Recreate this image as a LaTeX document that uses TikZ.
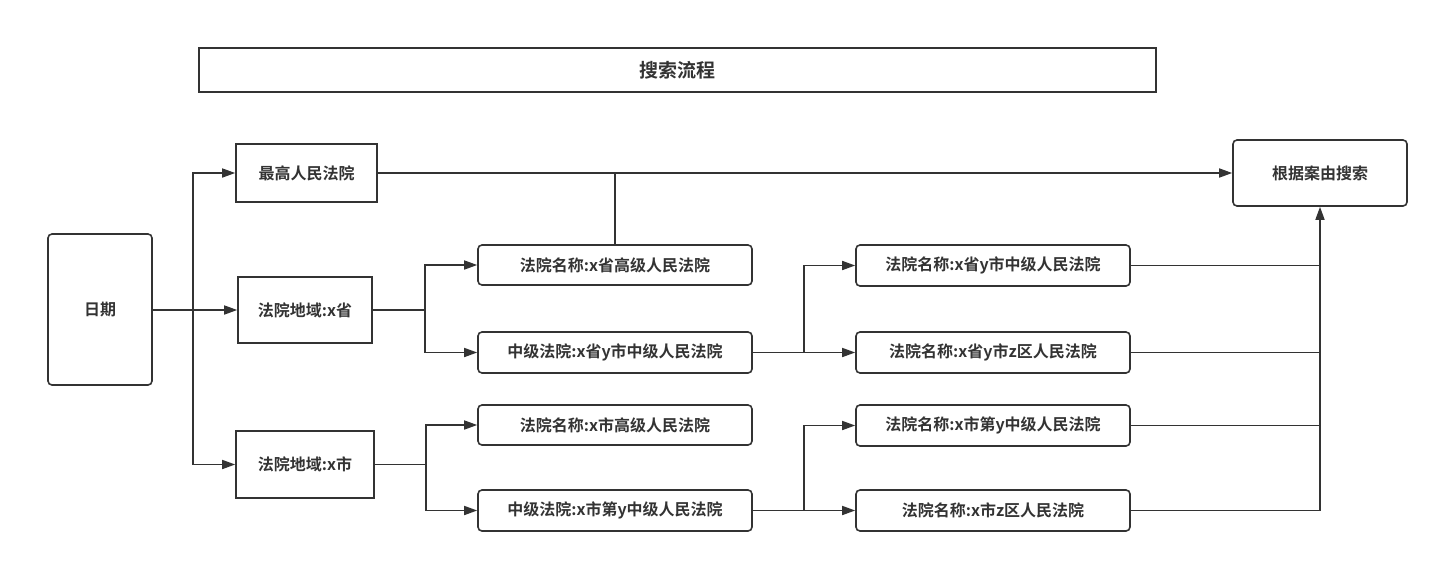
\documentclass[tikz,border=0pt]{standalone}
\usepackage{fontspec}
\setmainfont{Noto Sans CJK SC}[BoldFont={Noto Sans CJK SC Bold}]
\usetikzlibrary{arrows.meta}
\definecolor{ln}{HTML}{333333}
\begin{document}
\begin{tikzpicture}[x=1pt,y=-1pt,
  box/.style={draw=ln,line width=1.6pt,inner sep=0pt,font=\fontsize{16}{19}\selectfont\bfseries,text=ln},
  rbox/.style={box,rounded corners=4pt},
  conn/.style={draw=ln,line width=1.6pt},
  arr/.style={conn,-{Triangle[length=13pt,width=9pt]}}]
\useasboundingbox (0,0) rectangle (1438,563);
\node[box,minimum width=957,minimum height=44,font=\fontsize{19}{23}\selectfont\bfseries] (title) at (677.5,70) {搜索流程};
\node[rbox,minimum width=104,minimum height=151] (date) at (100,309.5) {日期};
\node[box,minimum width=141,minimum height=58] (zg) at (306.5,173) {最高人民法院};
\node[box,minimum width=134,minimum height=66] (xs) at (305,310) {法院地域:x省};
\node[box,minimum width=138,minimum height=67] (xc) at (305,464.5) {法院地域:x市};
\node[rbox,minimum width=274,minimum height=40] (a1) at (615,265) {法院名称:x省高级人民法院};
\node[rbox,minimum width=274,minimum height=41] (a2) at (615,352.5) {中级法院:x省y市中级人民法院};
\node[rbox,minimum width=274,minimum height=40] (a3) at (615,425) {法院名称:x市高级人民法院};
\node[rbox,minimum width=274,minimum height=41] (a4) at (615,510.5) {中级法院:x市第y中级人民法院};
\node[rbox,minimum width=274,minimum height=41] (b1) at (993,265.5) {法院名称:x省y市中级人民法院};
\node[rbox,minimum width=274,minimum height=41] (b2) at (993,352.5) {法院名称:x省y市z区人民法院};
\node[rbox,minimum width=274,minimum height=41] (b3) at (993,425.5) {法院名称:x市第y中级人民法院};
\node[rbox,minimum width=274,minimum height=41] (b4) at (993,510.5) {法院名称:x市z区人民法院};
\node[rbox,minimum width=174,minimum height=66] (res) at (1320,173) {根据案由搜索};
% junction coordinates
\coordinate (j0) at (193,310);
\coordinate (j1) at (425,310);
\coordinate (j2) at (426,464.5);
\coordinate (j3) at (804,352.5);
\coordinate (j4) at (804,510.5);
\coordinate (jr) at (1320,510.5);
% date branches
\draw[conn] (date.east |- j0) -- (j0);
\draw[arr] (j0) |- (zg.west);
\draw[arr] (j0) -- (xs.west);
\draw[arr] (j0) |- (xc.west);
% supreme to result
\draw[arr] (zg.east) -- (res.west);
\draw[conn] (a1.north) -- (a1.north |- zg.east);
% province
\draw[conn] (xs.east) -- (j1);
\draw[arr] (j1) |- (a1.west);
\draw[arr] (j1) |- (a2.west);
% city
\draw[conn] (xc.east) -- (j2);
\draw[arr] (j2) |- (a3.west);
\draw[arr] (j2) |- (a4.west);
% intermediate
\draw[conn] (a2.east) -- (j3);
\draw[arr] (j3) |- (b1.west);
\draw[arr] (j3) -- (b2.west);
\draw[conn] (a4.east) -- (j4);
\draw[arr] (j4) |- (b3.west);
\draw[arr] (j4) -- (b4.west);
% to result
\draw[conn] (b1.east) -- (b1.east -| jr);
\draw[conn] (b2.east) -- (b2.east -| jr);
\draw[conn] (b3.east) -- (b3.east -| jr);
\draw[conn] (b4.east) -- (jr);
\draw[arr] (jr) -- (res.south);
\end{tikzpicture}
\end{document}
